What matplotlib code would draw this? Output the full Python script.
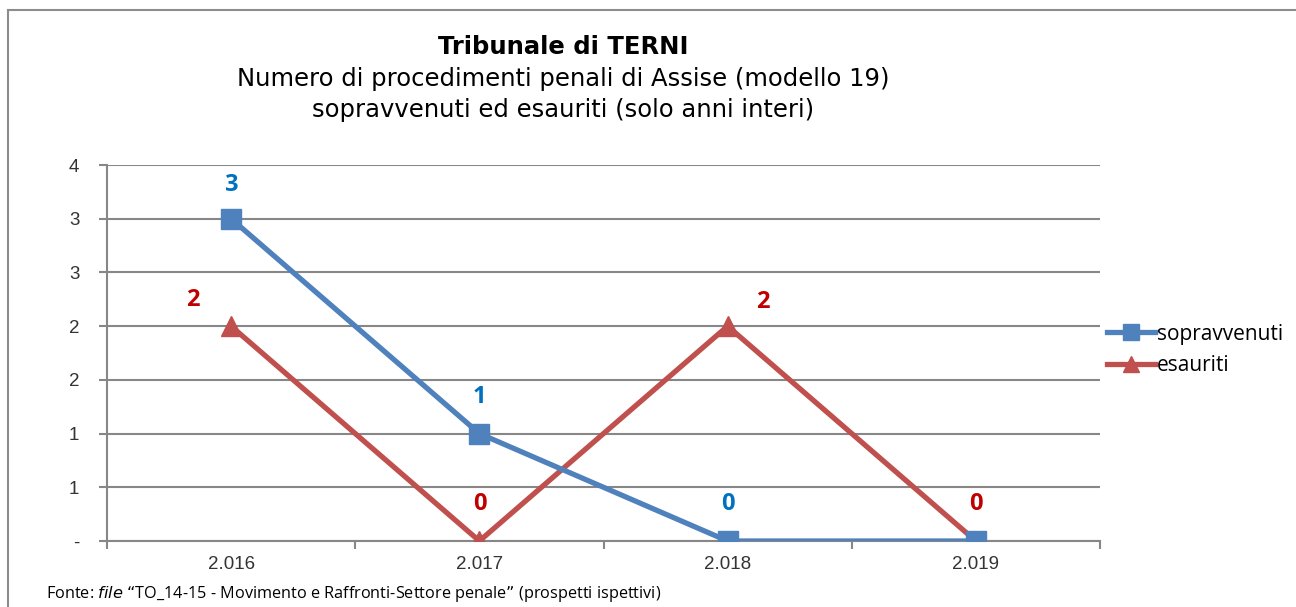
import matplotlib
matplotlib.use("Agg")
import matplotlib.pyplot as plt
from matplotlib.patches import Rectangle
from matplotlib.lines import Line2D

# dati
anni = ["2.016", "2.017", "2.018", "2.019"]
sopravvenuti = [3, 1, 0, 0]
esauriti = [2, 0, 2, 0]
y_ticks = [0, 0.5, 1, 1.5, 2, 2.5, 3, 3.5]
y_labels = ["-", "1", "1", "2", "2", "3", "3", "4"]

BLU, ROSSO = "#4F81BD", "#C0504D"
BLU_TXT, ROSSO_TXT = "#0070C0", "#C00000"
GRIGIO = "#878787"

# offset etichette (px) - None = nascosta
off_sop = [(0, 34), (0, 37), (0, 37), None]
off_esa = [(-38, 26), (0, 37), (35, 24), (0, 37)]

fig = plt.figure(figsize=(12.96, 6.07), dpi=100)
fig.patches.append(Rectangle((8 / 1296, -0.1), 1.2, 1 - 10 / 607 + 0.1,
                             transform=fig.transFigure, fill=False,
                             edgecolor="#8c8c8c", linewidth=1.5))

ax = fig.add_axes([107 / 1296, 1 - 541 / 607, (1100 - 107) / 1296, (541 - 165) / 607])
x = list(range(len(anni)))

ax.plot(x, sopravvenuti, color=BLU, lw=3.8, marker="s", ms=14, zorder=4,
        solid_capstyle="round")
ax.plot(x, esauriti, color=ROSSO, lw=3.8, marker="^", ms=14.5, zorder=3,
        solid_capstyle="round")

for xi, v, o in zip(x, sopravvenuti, off_sop):
    if o is None: continue
    ax.annotate(str(v), (xi, v), xytext=(o[0] * 0.72, o[1] * 0.72), textcoords="offset points",
                ha="center", va="center", color=BLU_TXT, fontsize=17, fontweight="bold",
                family="Open Sans", zorder=5)
for xi, v, o in zip(x, esauriti, off_esa):
    if o is None: continue
    ax.annotate(str(v), (xi, v), xytext=(o[0] * 0.72, o[1] * 0.72), textcoords="offset points",
                ha="center", va="center", color=ROSSO_TXT, fontsize=17, fontweight="bold",
                family="Open Sans", zorder=5)

ax.set_xlim(-0.5, len(anni) - 0.5)
ax.set_ylim(0, 3.5)
ax.set_yticks(y_ticks)
ax.set_yticklabels(y_labels, family="Liberation Sans", fontsize=13.5, color="#333333")
ax.set_xticks(x)
ax.set_xticklabels(anni, family="Liberation Sans", fontsize=13.5, color="#333333")
ax.set_xticks([i - 0.5 for i in range(len(anni) + 1)], minor=True)
ax.tick_params(axis="x", which="major", length=0, pad=11)
ax.tick_params(axis="x", which="minor", length=6, width=1.5, color=GRIGIO)
ax.tick_params(axis="y", length=6, width=1.5, color=GRIGIO, pad=14)
ax.grid(axis="y", color=GRIGIO, lw=1.5)
ax.set_axisbelow(True)
for s in ["top", "right"]:
    ax.spines[s].set_visible(False)
for s in ["left", "bottom"]:
    ax.spines[s].set_color(GRIGIO)
    ax.spines[s].set_linewidth(1.5)

# legenda
h = [Line2D([], [], color=BLU, lw=3.8, marker="s", ms=11),
     Line2D([], [], color=ROSSO, lw=3.8, marker="^", ms=11)]
fig.legend(h, ["sopravvenuti", "esauriti"], loc="center left",
           bbox_to_anchor=(1099 / 1296, 1 - 350 / 607), frameon=False,
           prop={"family": "Open Sans", "size": 15}, handlelength=2.3,
           handletextpad=0.1, labelspacing=0.5, borderaxespad=0)

# titolo
fig.text(563 / 1296, 1 - 47 / 607, "Tribunale di TERNI", ha="center", va="center",
         fontsize=17.5, fontweight="bold", family="DejaVu Sans")
fig.text(563 / 1296, 1 - 79 / 607, "Numero di procedimenti penali di Assise (modello 19)",
         ha="center", va="center", fontsize=17.5, family="DejaVu Sans")
fig.text(563 / 1296, 1 - 110 / 607, "sopravvenuti ed esauriti (solo anni interi)",
         ha="center", va="center", fontsize=17.5, family="DejaVu Sans")

# fonte
fig.text(46 / 1296, 1 - 594 / 607,
         "Fonte: $\\it{file}$ \u201cTO_14-15 - Movimento e Raffronti-Settore penale\u201d (prospetti ispettivi)",
         ha="left", va="center", fontsize=11.7, family="Open Sans")

fig.savefig("out.png", dpi=100)
